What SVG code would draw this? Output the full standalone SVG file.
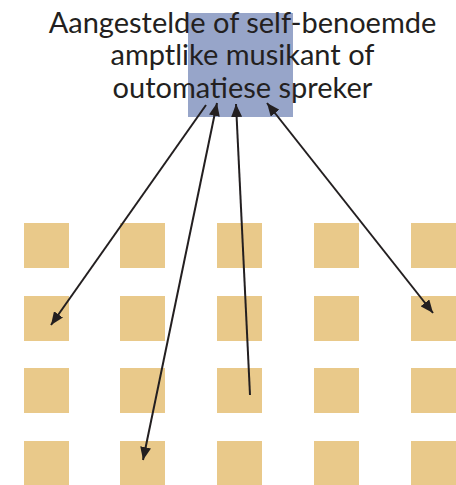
<svg xmlns="http://www.w3.org/2000/svg" width="456" height="485" viewBox="0 0 456 485">
<style>
.sq{fill:#e9c98a}
.lbl{font-family:Lato,"Open Sans",sans-serif;font-size:29px;fill:#231f20;text-anchor:middle}
.cn{stroke:#231f20;stroke-width:2;fill:none}
</style>
<defs>
<marker id="ah" markerUnits="userSpaceOnUse" markerWidth="14" markerHeight="11" refX="13" refY="5.5" orient="auto-start-reverse" viewBox="0 0 14 11">
<path d="M0,0 L13,5.5 L0,11 z" fill="#231f20"/>
</marker>
</defs>
<g id="source">
<rect x="188" y="13" width="105" height="104" fill="#97a5c9"/>
<text class="lbl" x="242.5" y="33">Aangestelde of self-benoemde</text>
<text class="lbl" x="242.5" y="65">amptlike musikant of</text>
<text class="lbl" x="242.5" y="98">outomatiese spreker</text>
</g>
<g id="grid">
<rect id="n11" class="sq" x="24" y="223" width="45" height="45"/>
<rect id="n12" class="sq" x="120" y="223" width="45" height="45"/>
<rect id="n13" class="sq" x="217" y="223" width="45" height="45"/>
<rect id="n14" class="sq" x="314" y="223" width="45" height="45"/>
<rect id="n15" class="sq" x="411" y="223" width="45" height="45"/>
<rect id="n21" class="sq" x="24" y="296" width="45" height="45"/>
<rect id="n22" class="sq" x="120" y="296" width="45" height="45"/>
<rect id="n23" class="sq" x="217" y="296" width="45" height="45"/>
<rect id="n24" class="sq" x="314" y="296" width="45" height="45"/>
<rect id="n25" class="sq" x="411" y="296" width="45" height="45"/>
<rect id="n31" class="sq" x="24" y="368" width="45" height="45"/>
<rect id="n32" class="sq" x="120" y="368" width="45" height="45"/>
<rect id="n33" class="sq" x="217" y="368" width="45" height="45"/>
<rect id="n34" class="sq" x="314" y="368" width="45" height="45"/>
<rect id="n35" class="sq" x="411" y="368" width="45" height="45"/>
<rect id="n41" class="sq" x="24" y="441" width="45" height="44"/>
<rect id="n42" class="sq" x="120" y="441" width="45" height="44"/>
<rect id="n43" class="sq" x="217" y="441" width="45" height="44"/>
<rect id="n44" class="sq" x="314" y="441" width="45" height="44"/>
<rect id="n45" class="sq" x="411" y="441" width="45" height="44"/>
</g>
<g id="connectors">
<line class="cn" x1="206" y1="105" x2="51" y2="325" marker-end="url(#ah)"/>
<line class="cn" x1="217" y1="103" x2="143" y2="460" marker-start="url(#ah)" marker-end="url(#ah)"/>
<line class="cn" x1="250" y1="395" x2="236" y2="104" marker-end="url(#ah)"/>
<line class="cn" x1="267" y1="103" x2="433" y2="313" marker-start="url(#ah)" marker-end="url(#ah)"/>
</g>
</svg>
